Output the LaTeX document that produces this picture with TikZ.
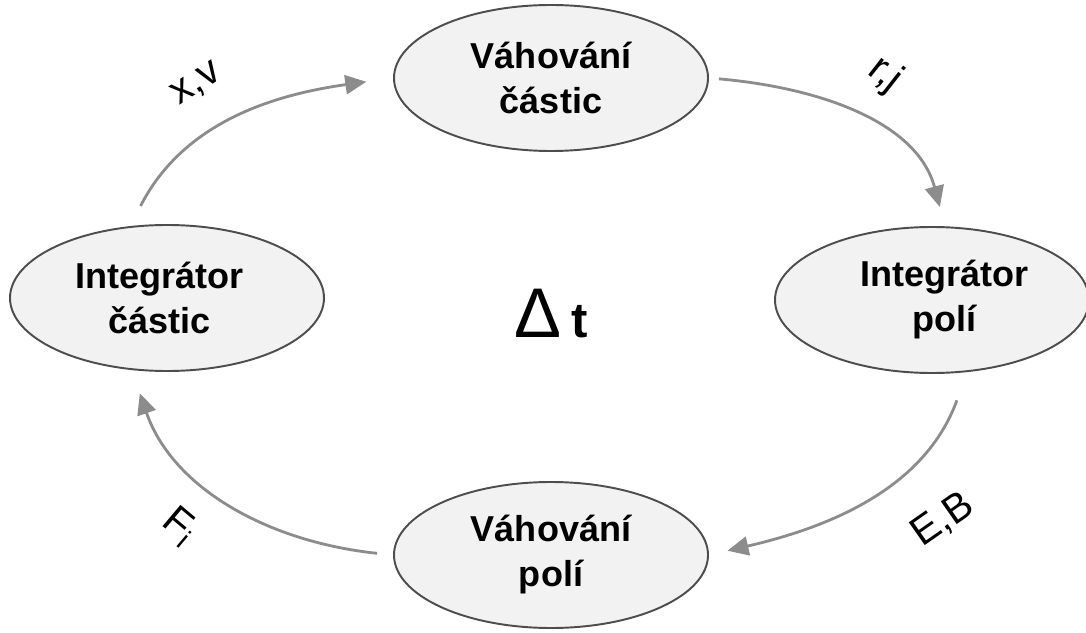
\documentclass[tikz,border=0pt]{standalone}
\usepackage{fontspec}
\setmainfont{Liberation Sans}
\usetikzlibrary{shapes,arrows.meta}
\definecolor{blockfill}{HTML}{F2F2F2}
\definecolor{blockline}{HTML}{4D4D4D}
\definecolor{flowgray}{HTML}{8C8C8C}
\tikzstyle{node_block} = [ellipse, draw=blockline, fill=blockfill, line width=1.1pt, minimum width=6.28cm, minimum height=2.92cm, inner sep=0pt, align=center, font=\fontsize{20.5}{25.6}\selectfont\bfseries]
\tikzstyle{node_label} = [inner sep=0pt, font=\fontsize{23}{26}\selectfont]
\tikzstyle{edge_flow} = [draw=flowgray, line width=1.6pt, -{Triangle[length=0.42cm, width=0.38cm]}]

\begin{document}
\begin{tikzpicture}
	\useasboundingbox (0,0) rectangle (21.72,12.64);
	\node (VC) at (11.02,11.08) [node_block] {Váhování\\částic};
	\node (IP) at (18.64,6.64) [node_block] {\hspace*{0.5cm}Integrátor\\\hspace*{0.5cm}polí};
	\node (VP) at (11.02,1.54) [node_block] {Váhování\\polí};
	\node (IC) at (3.34,6.68) [node_block] {Integrátor\hspace*{0.3cm}\\částic\hspace*{0.3cm}};
	\node (DT) at (11.03,6.36) [inner sep=0pt] {{\fontsize{40}{40}\selectfont Δ}\hspace{0.2cm}{\fontsize{28}{28}\selectfont\bfseries t}};
	% one time step, clockwise
	\draw[edge_flow, shorten <=0.45cm, shorten >=0.54cm] (IC.117) to[out=63, in=188] (VC.west);
	\draw[edge_flow, shorten <=0.2cm, shorten >=0.4cm] (VC.east) to[out=-5, in=105] (IP.80);
	\draw[edge_flow, shorten <=0.6cm, shorten >=0.38cm] (IP.296) to[out=250, in=13] (VP.east);
	\draw[edge_flow, shorten <=0.32cm, shorten >=0.49cm] (VP.west) to[out=174, in=-71] (IC.244);
	\node (XV) at (3.94,10.94) [node_label, rotate=33] {x,v};
	\node (RJ) at (17.7,11.14) [node_label, rotate=-38] {r,j};
	\node (EB) at (18.86,2.24) [node_label, rotate=35] {E,B};
	\node (FI) at (3.6,2.1) [node_label, rotate=-40] {F\textsubscript{i}};
\end{tikzpicture}
\end{document}
